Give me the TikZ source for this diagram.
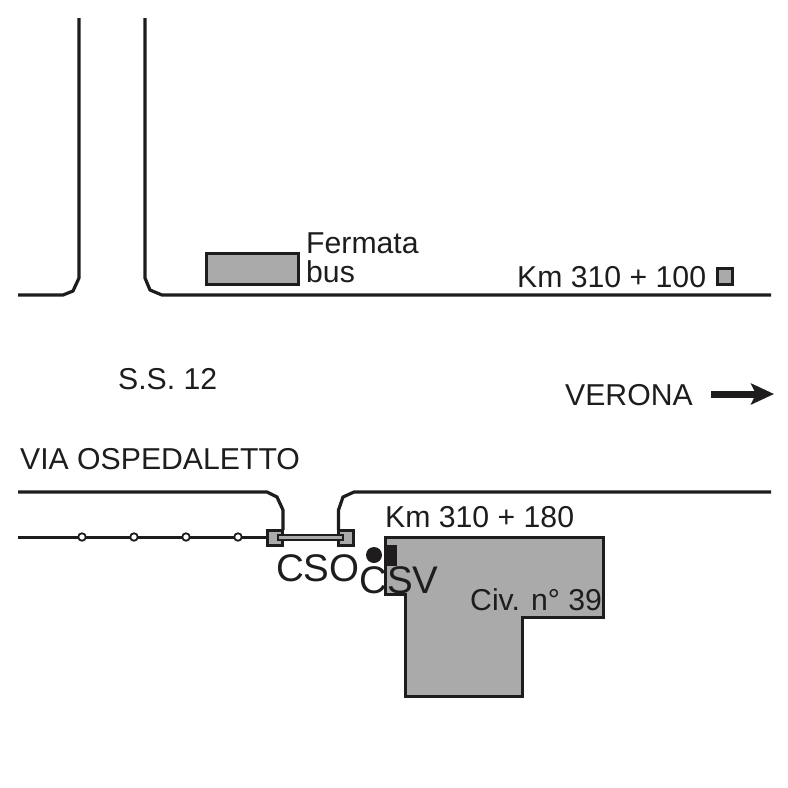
\documentclass[tikz,border=0pt]{standalone}
\usepackage{fontspec}
\setmainfont{Liberation Sans}
\usetikzlibrary{arrows.meta}
\definecolor{fillgrey}{RGB}{170,170,170}
\definecolor{inkblack}{RGB}{30,28,28}
\tikzset{
  road/.style={line width=3.2pt,draw=inkblack,line join=bevel},
  block/.style={line width=3pt,draw=inkblack,fill=fillgrey},
  caption/.style={inner sep=0pt,anchor=base west,text=inkblack,font=\fontsize{30.2}{32}\selectfont},
  bigcaption/.style={inner sep=0pt,anchor=base west,text=inkblack,font=\fontsize{38.5}{40}\selectfont},
  post/.style={circle,draw=inkblack,fill=white,line width=1.8pt,inner sep=0pt,minimum size=7.5pt}
}
\begin{document}
\begin{tikzpicture}[x=1pt,y=-1pt]
\useasboundingbox (0,0) rectangle (788,788);
% roads, top side
\draw[road] (18,295) -- (63,295) -- (73,291) -- (79,278) -- (79,18);
\draw[road] (145,18) -- (145,278) -- (150,290) -- (162,295) -- (771,295);
% roads, bottom side
\draw[road] (18,492) -- (267,492) -- (277,497) -- (283,510) -- (283,530);
\draw[road] (771,492) -- (354,492) -- (343,497) -- (338.5,510) -- (338.5,530);
% railway
\coordinate (W) at (18,537);
\coordinate (L) at (274,537);
\coordinate (R) at (346,537);
\draw[line width=3pt,draw=inkblack] (W) -- (L);
\foreach \x/\name in {82/p1,134/p2,186/p3,238/p4}
  \node[post] (\name) at (\x,537) {};
% building
\draw[block] (385,537) -- (603,537) -- (603,617) -- (522,617) -- (522,696) -- (405,696) -- (405,594) -- (385,594) -- cycle;
% crossing
\draw[block] (267,530) rectangle (282,545);
\draw[block] (338,530) rectangle (353,545);
\draw[line width=2.5pt,draw=inkblack,fill=fillgrey] (278,535) rectangle (343,540);
% bus stop, km mark
\draw[block] (206,253) rectangle (298,284);
\node[caption] (fermata) at (306,253) {Fermata};
\node[caption] (bus) at (306,282) {bus};
\node[caption] (kmA) at (517,287) {Km 310 + 100};
\draw[block] (717,268) rectangle (732,284);
% labels
\node[caption] (ss) at (118,389) {S.S. 12};
\node[caption] (verona) at (565,405) {VERONA};
\coordinate (arrowA) at (711,394);
\coordinate (arrowB) at (774,394);
\draw[line width=7pt,draw=inkblack,-{Stealth[length=23pt,width=21pt,inset=5pt]}] (arrowA) -- (arrowB);
\node[caption] (via) at (20,469) {VIA OSPEDALETTO};
\node[caption] (kmB) at (385,527) {Km 310 + 180};
\node[caption] (civ) at (470,610) {Civ. n° 39};
% CSO, CSV
\fill[inkblack] (385,545) rectangle (397,566);
\node[circle,fill=inkblack,inner sep=0pt,minimum size=16pt] (dot) at (374,555) {};
\node[bigcaption] (cso) at (276,581) {CSO};
\node[bigcaption] (csv) at (359,593) {CSV};
\end{tikzpicture}
\end{document}
